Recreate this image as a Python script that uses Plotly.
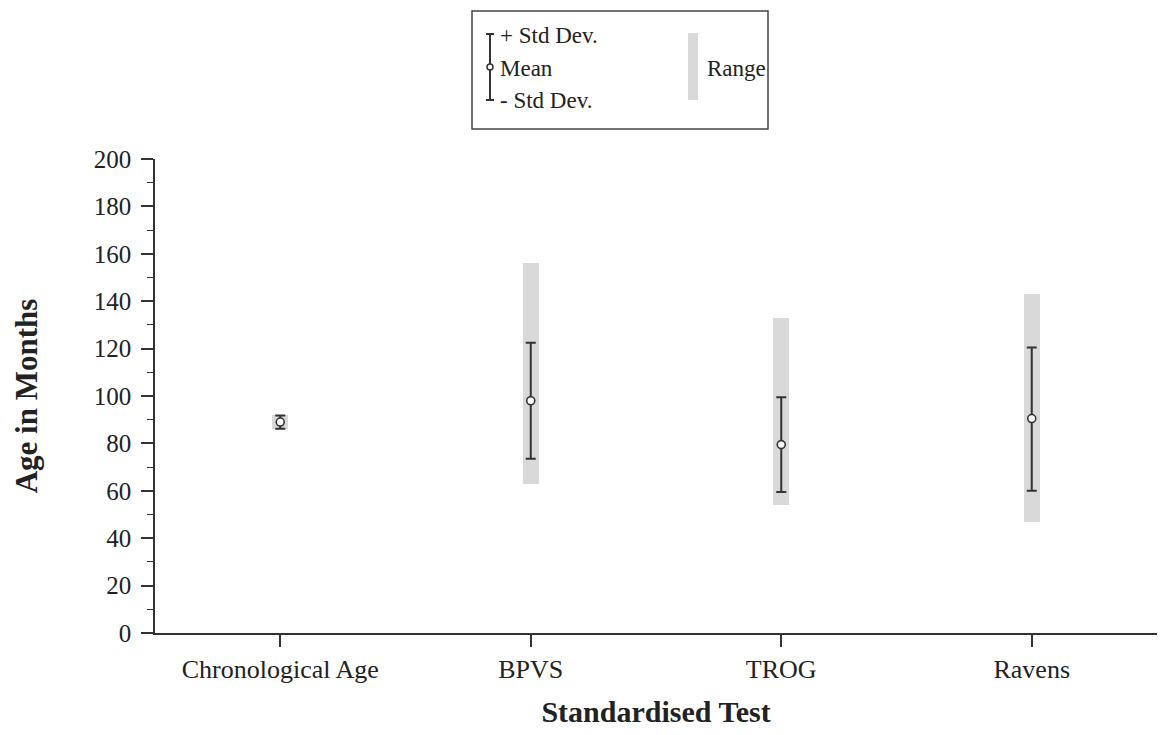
import plotly.graph_objects as go

categories = ["Chronological Age", "BPVS", "TROG", "Ravens"]
mean_vals = [89, 98, 79.5, 90.5]
sd_plus = [2.8, 24.5, 20, 30]
sd_minus = [2.8, 24.5, 20, 30.5]
range_min = [86, 63, 54, 47]
range_max = [92, 156, 133, 143]
y_ticks = [0, 20, 40, 60, 80, 100, 120, 140, 160, 180, 200]

FONT = "Liberation Serif, Times New Roman, serif"
AX = "#333333"
TXT = "#222222"
GREY = "#d9d9d9"

fig = go.Figure()

# Range bars
fig.add_trace(go.Bar(
    x=categories,
    y=[hi - lo for lo, hi in zip(range_min, range_max)],
    base=range_min,
    width=0.062,
    marker=dict(color=GREY, line=dict(width=0)),
    showlegend=False,
    hoverinfo="skip",
))

# Mean +/- SD
fig.add_trace(go.Scatter(
    x=categories,
    y=mean_vals,
    mode="markers",
    marker=dict(symbol="circle", size=8, color="white",
                line=dict(color=AX, width=1.6)),
    error_y=dict(type="data", symmetric=False, array=sd_plus,
                 arrayminus=sd_minus, color=AX, thickness=2, width=5),
    showlegend=False,
))

# Plot area pixel geometry (for legend placement)
L, R, T, B = 155, 1157, 159, 633
W, H = R - L, B - T


def px(x):
    return (x - L) / W


def py(y):
    return (B - y) / H


shapes = []
# legend box
shapes.append(dict(type="rect", xref="paper", yref="paper",
                   x0=px(472), x1=px(768), y0=py(129), y1=py(11),
                   line=dict(color="#444444", width=1.5), fillcolor="white"))
# legend error bar
shapes.append(dict(type="line", xref="paper", yref="paper",
                   x0=px(490), x1=px(490), y0=py(100), y1=py(34),
                   line=dict(color=AX, width=2)))
for yy in (34, 100):
    shapes.append(dict(type="line", xref="paper", yref="paper",
                       x0=px(486), x1=px(494), y0=py(yy), y1=py(yy),
                       line=dict(color=AX, width=2)))
shapes.append(dict(type="circle", xref="paper", yref="paper",
                   x0=px(487), x1=px(493), y0=py(70), y1=py(64),
                   line=dict(color=AX, width=1.5), fillcolor="white"))
# legend range swatch
shapes.append(dict(type="rect", xref="paper", yref="paper",
                   x0=px(688), x1=px(698), y0=py(100), y1=py(33),
                   line=dict(width=0), fillcolor=GREY))

annotations = []
for txt, yy in (("+ Std Dev.", 36), ("Mean", 68), ("- Std Dev.", 100)):
    annotations.append(dict(text=txt, xref="paper", yref="paper",
                            x=px(498), y=py(yy), xanchor="left", yanchor="middle",
                            showarrow=False, font=dict(family=FONT, size=23, color=TXT)))
annotations.append(dict(text="Range", xref="paper", yref="paper",
                        x=px(705), y=py(68), xanchor="left", yanchor="middle",
                        showarrow=False, font=dict(family=FONT, size=23, color=TXT)))

fig.update_layout(
    width=1171, height=735,
    margin=dict(l=L, r=1171 - R, t=T, b=735 - B, autoexpand=False),
    paper_bgcolor="white", plot_bgcolor="white",
    font=dict(family=FONT, color=TXT),
    bargap=0,
    shapes=shapes,
    annotations=annotations,
    xaxis=dict(
        type="category", range=[-0.5, 3.5],
        showline=True, linecolor=AX, linewidth=1.5,
        ticks="outside", ticklen=12, tickcolor=AX, tickwidth=1.5,
        showgrid=False, zeroline=False,
        tickfont=dict(family=FONT, size=26, color=TXT),
        title=dict(text="<b>Standardised Test</b>", standoff=18,
                   font=dict(family=FONT, size=30, color=TXT)),
        automargin=False,
    ),
    yaxis=dict(
        range=[0, 200], tickvals=y_ticks,
        showline=True, linecolor=AX, linewidth=1.5,
        ticks="outside", ticklen=12, tickcolor=AX, tickwidth=1.5,
        ticklabelstandoff=5,
        minor=dict(dtick=10, ticks="outside", ticklen=6, tickcolor=AX, tickwidth=1.2),
        showgrid=False, zeroline=False,
        tickfont=dict(family=FONT, size=25, color=TXT),
        title=dict(text="<b>Age in Months</b>", standoff=47,
                   font=dict(family=FONT, size=31, color=TXT)),
        automargin=False,
    ),
)

fig.write_html("out.html")
